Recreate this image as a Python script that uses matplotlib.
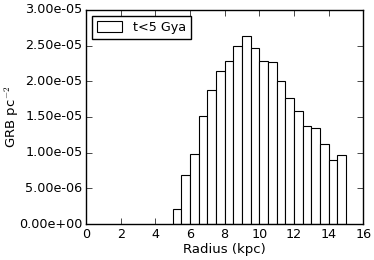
import matplotlib
matplotlib.use("Agg")
import matplotlib.pyplot as plt

radius = [5.0, 5.5, 6.0, 6.5, 7.0, 7.5, 8.0, 8.5, 9.0, 9.5,
          10.0, 10.5, 11.0, 11.5, 12.0, 12.5, 13.0, 13.5, 14.0, 14.5]
grb = [2.06e-6, 6.87e-6, 9.86e-6, 1.52e-5, 1.88e-5, 2.15e-5, 2.28e-5, 2.50e-5, 2.63e-5, 2.46e-5,
       2.29e-5, 2.27e-5, 2.01e-5, 1.76e-5, 1.58e-5, 1.37e-5, 1.35e-5, 1.12e-5, 9.0e-6, 9.67e-6]

plt.style.use('classic')
plt.rcParams['font.size'] = 9.2

fig = plt.figure(figsize=(3.74, 2.6), dpi=100, facecolor='white')
ax = fig.add_axes([0.23, 0.138, 0.741, 0.824])

ax.bar(radius, grb, width=0.5, align='edge', color='white', edgecolor='black',
       linewidth=0.8, label='t<5 Gya')

ax.set_xlim(0, 16)
ax.set_ylim(0, 3e-5)
ax.set_xticks(range(0, 17, 2))
ax.set_yticks([i * 5e-6 for i in range(7)])
ax.set_yticklabels(['%.2e' % (i * 5e-6) for i in range(7)])
ax.tick_params(axis='both', labelsize=9.2, pad=2.5)
ax.set_xlabel('Radius (kpc)', fontsize=9.5, labelpad=2)
ax.set_ylabel('GRB pc$^{-2}$', fontsize=9.5)
ax.yaxis.set_label_coords(-0.235, 0.5)
ax.legend(loc='upper left', fontsize=9.2, handlelength=2.0, handleheight=0.9,
          borderaxespad=0.45, borderpad=0.4, handletextpad=0.8)

fig.savefig('out.png', dpi=100, facecolor='white')
